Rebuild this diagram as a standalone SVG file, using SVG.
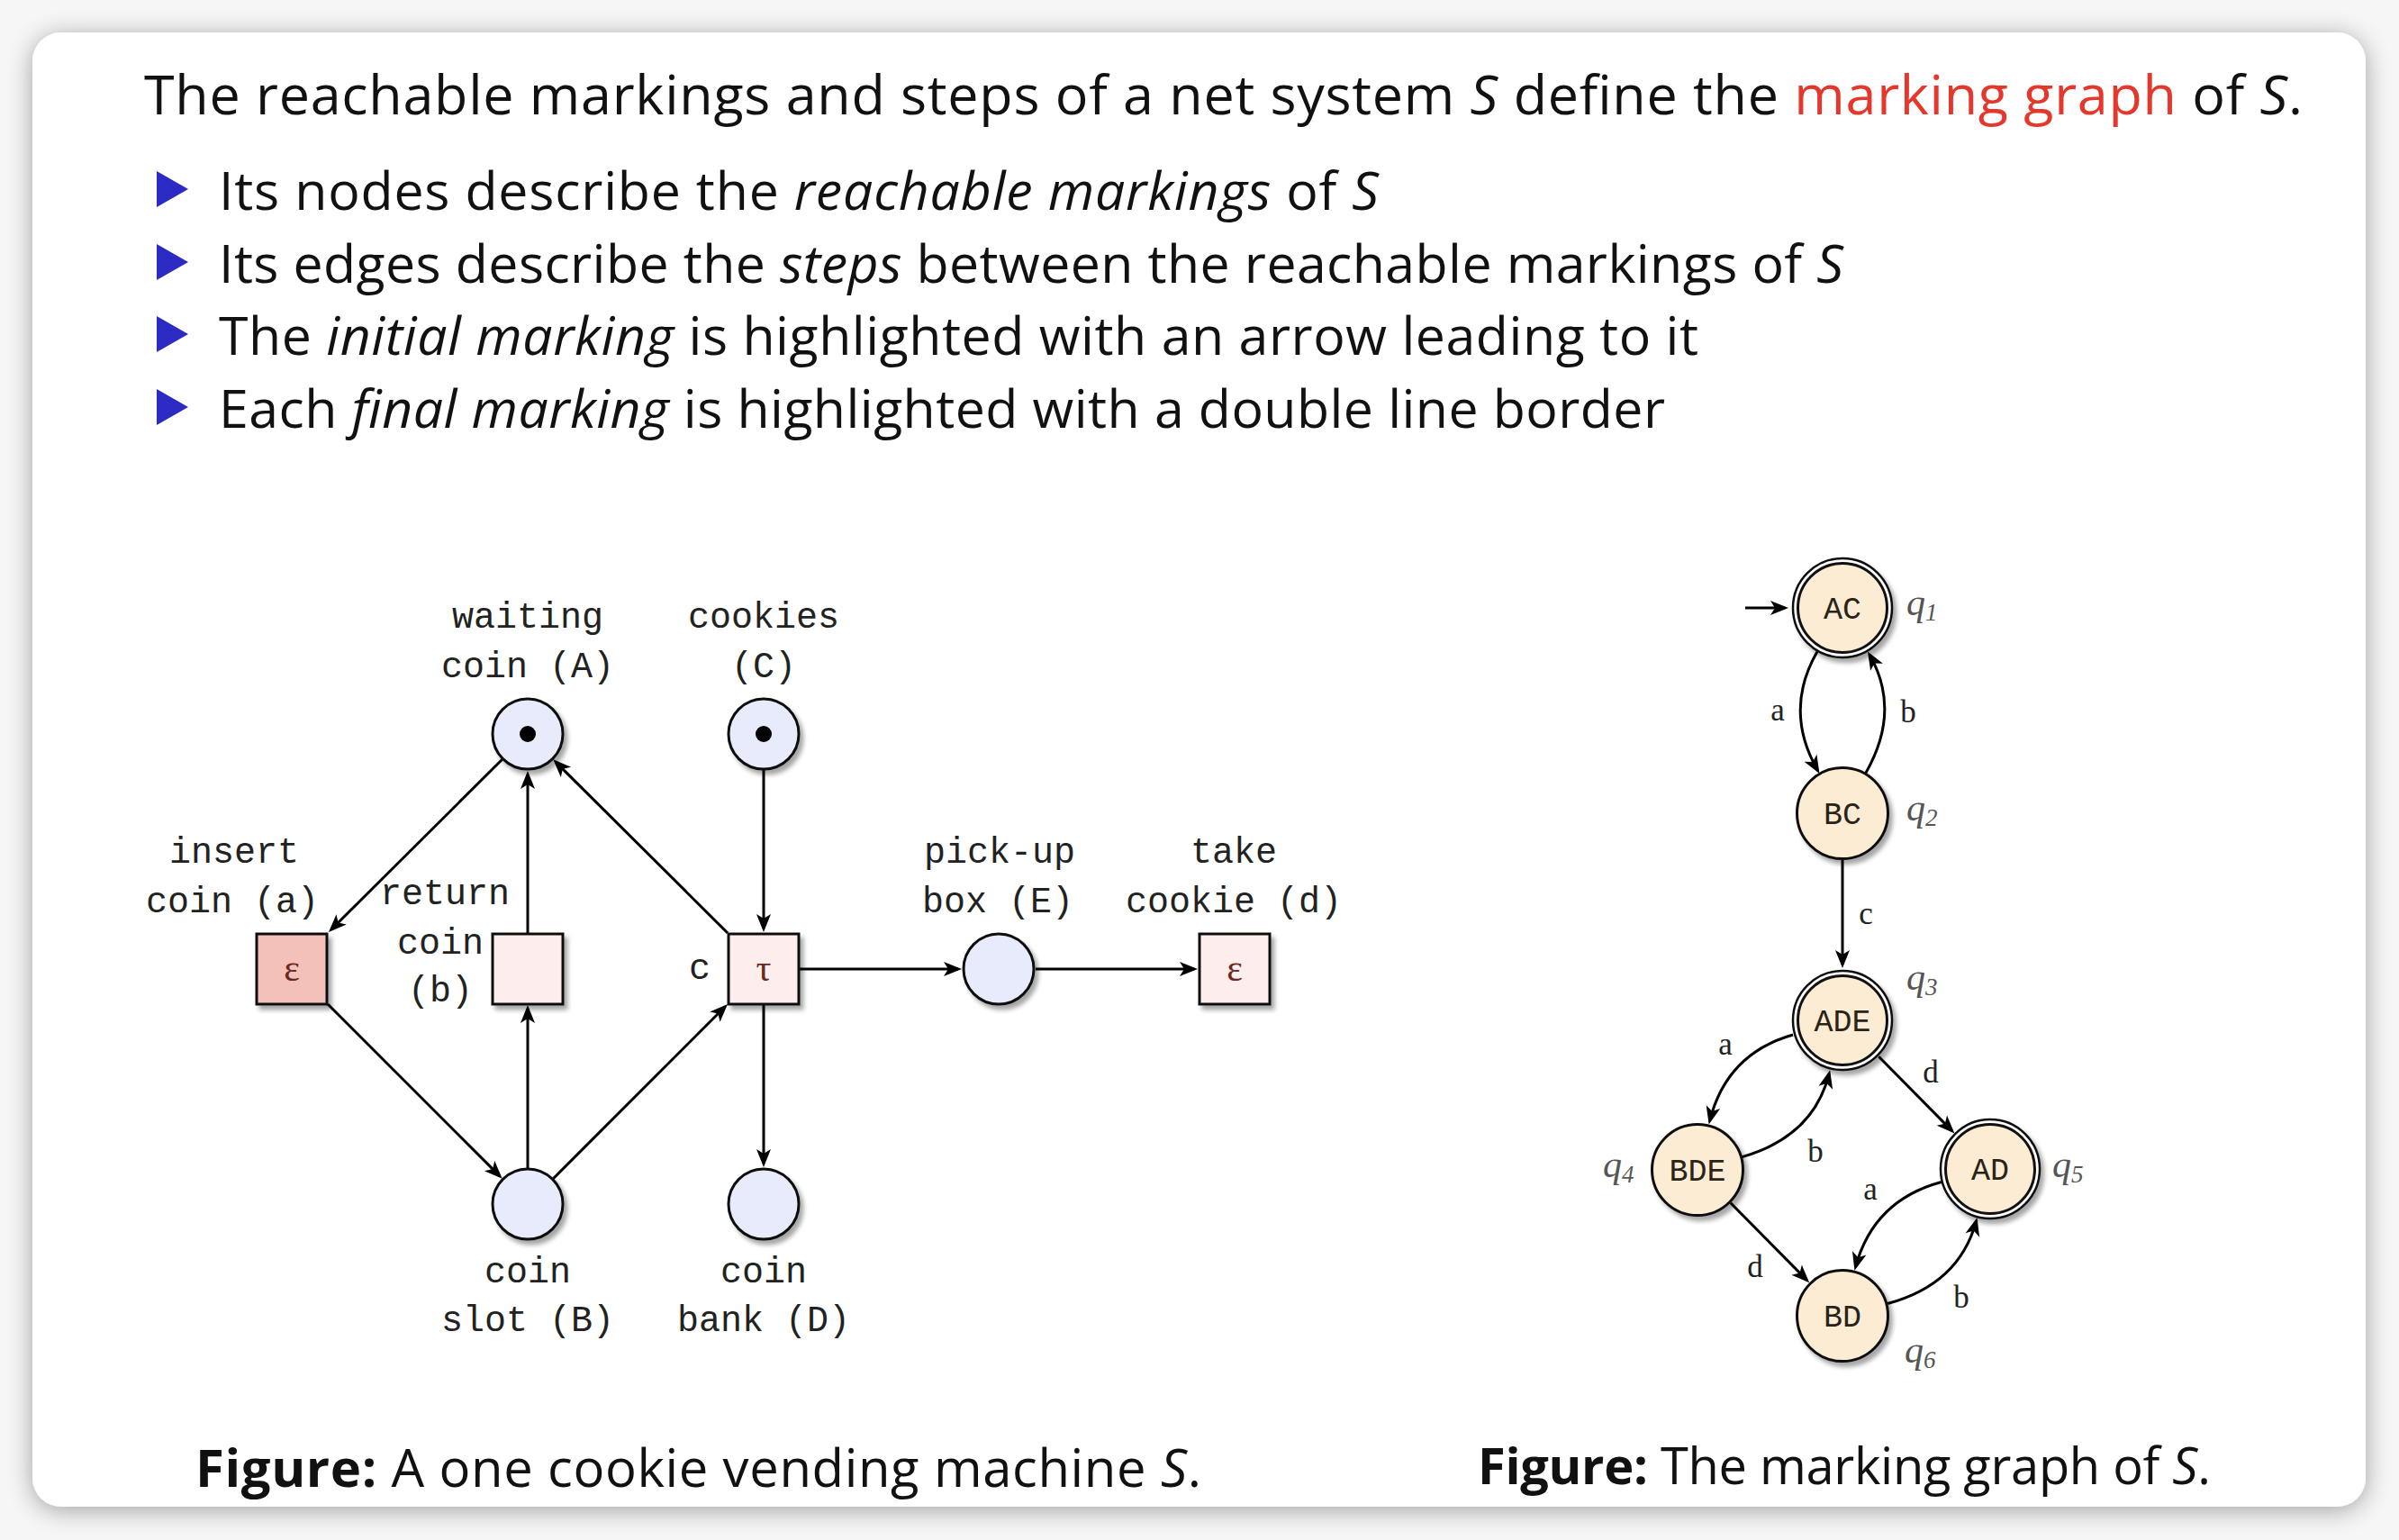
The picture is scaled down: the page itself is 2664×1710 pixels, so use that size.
<svg xmlns="http://www.w3.org/2000/svg" width="2664" height="1710" viewBox="0 0 2664 1710">
<defs>
<filter id="cardsh" x="-5%" y="-5%" width="110%" height="110%">
<feGaussianBlur in="SourceAlpha" stdDeviation="14"/>
<feOffset dx="0" dy="4" result="b"/>
<feComponentTransfer><feFuncA type="linear" slope="0.35"/></feComponentTransfer>
<feMerge><feMergeNode/><feMergeNode in="SourceGraphic"/></feMerge>
</filter>
<filter id="sh" x="-30%" y="-30%" width="160%" height="160%">
<feGaussianBlur in="SourceAlpha" stdDeviation="2.5"/>
<feOffset dx="4" dy="5" result="b"/>
<feComponentTransfer><feFuncA type="linear" slope="0.35"/></feComponentTransfer>
<feMerge><feMergeNode/><feMergeNode in="SourceGraphic"/></feMerge>
</filter>
<marker id="arr" viewBox="-20 -10 28 20" refX="0" refY="0" markerWidth="28" markerHeight="20" orient="auto" markerUnits="userSpaceOnUse">
<path d="M4,0 L-16,-8 L-11,0 L-16,8 Z" fill="#000"/>
</marker>
<style>
.t{font-family:"Open Sans","Noto Sans","Liberation Sans",sans-serif;fill:#111;}
.i{font-style:italic;}
.mono{font-family:"Liberation Mono","DejaVu Sans Mono",monospace;fill:#222;font-size:40px;text-anchor:middle;}
.nl{font-family:"Liberation Mono","DejaVu Sans Mono",monospace;fill:#2a2418;font-size:35px;text-anchor:middle;}
.ser{font-family:"Liberation Serif","DejaVu Serif",serif;fill:#222;font-size:35px;text-anchor:middle;}
.q{font-family:"Liberation Serif","DejaVu Serif",serif;fill:#555;font-size:42px;font-style:italic;}
.greek{font-family:"Liberation Serif","DejaVu Serif",serif;fill:#6b2a20;font-size:42px;text-anchor:middle;}
.place{fill:#e8ebfb;stroke:#111;stroke-width:3;}
.trans{fill:#fdeeed;stroke:#111;stroke-width:3;}
.transa{fill:#f3c0ba;stroke:#111;stroke-width:3;}
.st{fill:#fcecd4;stroke:#111;stroke-width:3;}
.ring{fill:#fff;stroke:#111;stroke-width:2.5;}
.e{fill:none;stroke:#000;stroke-width:3;marker-end:url(#arr);}
.bul{fill:#2b2bc4;}
</style>
</defs>
<rect x="0" y="0" width="2664" height="1710" fill="#f6f6f6"/>
<rect x="36" y="36" width="2591" height="1637" rx="32" ry="32" fill="#fff" filter="url(#cardsh)"/>

<g id="title">
<text class="t" x="160" y="127" font-size="61" textLength="2397">The reachable markings and steps of a net system <tspan class="i">S</tspan> define the <tspan fill="#e3382b">marking graph</tspan> of <tspan class="i">S</tspan>.</text>
</g>
<g id="bullets">
<path class="bul" d="M174,190 L209,210 L174,230 Z"/>
<path class="bul" d="M174,271 L209,291 L174,311 Z"/>
<path class="bul" d="M174,351 L209,371 L174,391 Z"/>
<path class="bul" d="M174,432 L209,452 L174,472 Z"/>
<text class="t" x="243" y="233" font-size="59" textLength="1288">Its nodes describe the <tspan class="i">reachable markings</tspan> of <tspan class="i">S</tspan></text>
<text class="t" x="243" y="314" font-size="59" textLength="1804">Its edges describe the <tspan class="i">steps</tspan> between the reachable markings of <tspan class="i">S</tspan></text>
<text class="t" x="243" y="394" font-size="59" textLength="1643">The <tspan class="i">initial marking</tspan> is highlighted with an arrow leading to it</text>
<text class="t" x="243" y="475" font-size="59" textLength="1606">Each <tspan class="i">final marking</tspan> is highlighted with a double line border</text>
</g>

<g id="petri-connectors">
<path class="e" d="M557.7,843.3 L367.8,1032.2"/>
<path class="e" d="M364,1115 L554.9,1305.9"/>
<path class="e" d="M586,1297 L586,1120"/>
<path class="e" d="M586,1036 L586,860"/>
<path class="e" d="M614.3,1308.7 L805.2,1117.8"/>
<path class="e" d="M808,1036 L617.1,846.1"/>
<path class="e" d="M848,855 L848,1031"/>
<path class="e" d="M848,1116 L848,1292"/>
<path class="e" d="M888,1076 L1064,1076"/>
<path class="e" d="M1150,1076 L1326,1076"/>
</g>

<g id="place-A"><circle class="place" cx="586" cy="815" r="39" filter="url(#sh)"/><circle cx="586" cy="815" r="9" fill="#000"/>
<text class="mono" x="586" y="697">waiting</text><text class="mono" x="586" y="752">coin (A)</text></g>
<g id="place-C"><circle class="place" cx="848" cy="815" r="39" filter="url(#sh)"/><circle cx="848" cy="815" r="9" fill="#000"/>
<text class="mono" x="848" y="697">cookies</text><text class="mono" x="848" y="752">(C)</text></g>
<g id="place-B"><circle class="place" cx="586" cy="1337" r="39" filter="url(#sh)"/>
<text class="mono" x="586" y="1424">coin</text><text class="mono" x="586" y="1478">slot (B)</text></g>
<g id="place-D"><circle class="place" cx="848" cy="1337" r="39" filter="url(#sh)"/>
<text class="mono" x="848" y="1424">coin</text><text class="mono" x="848" y="1478">bank (D)</text></g>
<g id="place-E"><circle class="place" cx="1109" cy="1076" r="39" filter="url(#sh)"/>
<text class="mono" x="1110" y="958">pick-up</text><text class="mono" x="1108" y="1013">box (E)</text></g>
<g id="trans-a"><rect class="transa" x="285" y="1037" width="78" height="78" filter="url(#sh)"/><text class="greek" x="324" y="1089">ε</text>
<text class="mono" x="260" y="958">insert</text><text class="mono" x="258" y="1013">coin (a)</text></g>
<g id="trans-b"><rect class="trans" x="547" y="1037" width="78" height="78" filter="url(#sh)"/>
<text class="mono" x="494" y="1004">return</text><text class="mono" x="489" y="1059">coin</text><text class="mono" x="489" y="1112">(b)</text></g>
<g id="trans-c"><rect class="trans" x="809" y="1037" width="78" height="78" filter="url(#sh)"/><text class="greek" x="848" y="1089">τ</text>
<text class="mono" x="777" y="1087">c</text></g>
<g id="trans-d"><rect class="trans" x="1332" y="1037" width="78" height="78" filter="url(#sh)"/><text class="greek" x="1371" y="1089">ε</text>
<text class="mono" x="1370" y="958">take</text><text class="mono" x="1370" y="1013">cookie (d)</text></g>

<g id="graph-connectors">
<path class="e" d="M1938,675 L1982,675"/>
<path class="e" d="M2018,723.5 C1991.5,769.4 1994,813 2018.5,855.5"/>
<path class="e" d="M2071.5,859 C2098,813 2100.5,769.4 2076,727"/>
<path class="e" d="M2046,954 L2046,1071"/>
<path class="e" d="M1991,1149 C1939.7,1163.7 1910.5,1196.8 1898.6,1244.7"/>
<path class="e" d="M1934.7,1284.6 C1986,1269.9 2019.3,1240.1 2031.2,1192.2"/>
<path class="e" d="M2086.3,1173.3 L2167.6,1255.6"/>
<path class="e" d="M2155.9,1312.5 C2103.8,1326.5 2073.5,1358.7 2060.5,1406.9"/>
<path class="e" d="M2096.2,1447.5 C2148.3,1433.5 2181.5,1404.1 2194.5,1355.9"/>
<path class="e" d="M1921.8,1335.8 L2006.4,1421.4"/>
<text class="ser" x="1974" y="800">a</text>
<text class="ser" x="2119" y="802">b</text>
<text class="ser" x="2072" y="1026">c</text>
<text class="ser" x="1916" y="1171">a</text>
<text class="ser" x="2144" y="1202">d</text>
<text class="ser" x="2016" y="1290">b</text>
<text class="ser" x="2077" y="1332">a</text>
<text class="ser" x="1949" y="1418">d</text>
<text class="ser" x="2178" y="1452">b</text>
</g>

<g id="q1"><circle class="ring" cx="2046" cy="675" r="55" filter="url(#sh)"/><circle class="st" cx="2046" cy="675" r="49.5" stroke-width="2.5"/><text class="nl" x="2046" y="687">AC</text>
<text class="q" x="2117" y="683">q<tspan font-size="27" dy="6">1</tspan></text></g>
<g id="q2"><circle class="st" cx="2046" cy="903" r="50.5" filter="url(#sh)"/><text class="nl" x="2046" y="915">BC</text>
<text class="q" x="2117" y="911">q<tspan font-size="27" dy="6">2</tspan></text></g>
<g id="q3"><circle class="ring" cx="2046" cy="1133" r="55" filter="url(#sh)"/><circle class="st" cx="2046" cy="1133" r="49.5" stroke-width="2.5"/><text class="nl" x="2046" y="1145">ADE</text>
<text class="q" x="2117" y="1099">q<tspan font-size="27" dy="6">3</tspan></text></g>
<g id="q4"><circle class="st" cx="1885" cy="1299" r="50.5" filter="url(#sh)"/><text class="nl" x="1885" y="1311">BDE</text>
<text class="q" x="1780" y="1307">q<tspan font-size="27" dy="6">4</tspan></text></g>
<g id="q5"><circle class="ring" cx="2210" cy="1298" r="55" filter="url(#sh)"/><circle class="st" cx="2210" cy="1298" r="49.5" stroke-width="2.5"/><text class="nl" x="2210" y="1310">AD</text>
<text class="q" x="2279" y="1307">q<tspan font-size="27" dy="6">5</tspan></text></g>
<g id="q6"><circle class="st" cx="2046" cy="1461" r="50.5" filter="url(#sh)"/><text class="nl" x="2046" y="1473">BD</text>
<text class="q" x="2115" y="1513">q<tspan font-size="27" dy="6">6</tspan></text></g>

<g id="captions">
<text class="t" x="217" y="1651" font-size="58" textLength="1117"><tspan font-weight="bold">Figure:</tspan> A one cookie vending machine <tspan class="i">S</tspan>.</text>
<text class="t" x="1641" y="1648" font-size="56" textLength="814"><tspan font-weight="bold">Figure:</tspan> The marking graph of <tspan class="i">S</tspan>.</text>
</g>
</svg>
